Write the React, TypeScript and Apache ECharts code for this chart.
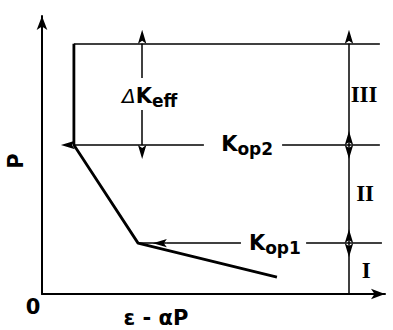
import React, { useEffect, useRef } from "react";
import * as echarts from "echarts";

// Load path: P against ε − αP (arbitrary units, both axes 0–100)
const curveX = [9.3, 9.3, 28.0, 68.5];
const curveY = [90, 53.6, 18.3, 6.1];

// Characteristic load levels
const pMax = 90;
const kOp2 = 53.6;
const kOp1 = 18.3;

// Horizontal reference lines: start, label gap, end
const levelStartX = 9.3;
const topLineEnd = 98.5;
const kOp2Gap = [47.2, 70.0];
const kOp2End = 98.5;
const kOp2ArrowTip = 9.6;
const kOp1Start = 28.0;
const kOp1Gap = [58.0, 77.0];
const kOp1End = 99.1;
const kOp1ArrowTip = 36.4;

// Dimension lines
const stageX = 89.5;
const keffX = 29.2;
const keffGap = [66.2, 77.7];

// Text labels: [x, y, rich text]
const stageLabels = ["III", "II", "I"];
const stageLabelX = [93.9, 94.2, 94.5];
const stageLabelY = [71.6, 36.3, 8.6];
const levelLabelText = ["{d|Δ}{k|K}{s|eff}", "{k|K}{s|op2}", "{k|K}{s|op1}"];
const levelLabelX = [31.4, 59.8, 67.9];
const levelLabelY = [70.9, 53.6, 18.0];

// Narrow arrowhead whose tip sits at the symbol centre (square bounding box)
const ARROW =
  "path://M0,0 L4.2,14 L0,11 L-4.2,14 Z M-14,28 L-14,28.02 L-13.98,28 Z M14,28 L14,28.02 L13.98,28 Z";

const INK = "#000";
const SANS = "DejaVu Sans";

export default function App() {
  const ref = useRef<HTMLDivElement>(null);

  useEffect(() => {
    if (!ref.current) return;
    const chart = echarts.init(ref.current, undefined, { renderer: "svg" });

    const plain: number[][][] = [
      [[levelStartX, pMax], [topLineEnd, pMax]],
      [[kOp2Gap[1], kOp2], [kOp2End, kOp2]],
      [[kOp1Start, kOp1], [kOp1ArrowTip, kOp1]],
      [[kOp1Gap[1], kOp1], [kOp1End, kOp1]],
    ];
    const singleArrow: number[][][] = [
      [[kOp2Gap[0], kOp2], [kOp2ArrowTip, kOp2]],
      [[kOp1Gap[0], kOp1], [kOp1ArrowTip, kOp1]],
      [[keffX, keffGap[1]], [keffX, pMax]],
      [[keffX, keffGap[0]], [keffX, kOp2]],
    ];
    const doubleArrow: number[][][] = [
      [[stageX, pMax], [stageX, kOp2]],
      [[stageX, kOp2], [stageX, kOp1]],
      [[stageX, kOp1], [stageX, 0]],
    ];

    const lineStyle = { color: INK, width: 1.5, opacity: 1 };

    const labelData = [
      ...stageLabels.map((t, i) => ({
        value: [stageLabelX[i], stageLabelY[i]],
        label: {
          formatter: t,
          fontFamily: "Liberation Serif",
          fontWeight: "bold" as const,
          fontSize: 23,
        },
      })),
      ...levelLabelText.map((t, i) => ({
        value: [levelLabelX[i], levelLabelY[i]],
        label: { formatter: t },
      })),
    ];

    chart.setOption({
      animation: false,
      backgroundColor: "#fff",
      grid: { left: 42, top: 16, width: 343, height: 278 },
      xAxis: {
        type: "value",
        min: 0,
        max: 100,
        axisLine: {
          show: true,
          symbol: ["none", "arrow"],
          symbolSize: [8, 14],
          lineStyle: { color: INK, width: 2 },
        },
        axisTick: { show: false },
        axisLabel: { show: false },
        splitLine: { show: false },
      },
      yAxis: {
        type: "value",
        min: 0,
        max: 100,
        axisLine: {
          show: true,
          symbol: ["none", "arrow"],
          symbolSize: [8, 14],
          lineStyle: { color: INK, width: 2 },
        },
        axisTick: { show: false },
        axisLabel: { show: false },
        splitLine: { show: false },
      },
      series: [
        {
          type: "line",
          data: curveX.map((x, i) => [x, curveY[i]]),
          showSymbol: false,
          symbol: "none",
          lineStyle: { color: INK, width: 2.8 },
          silent: true,
        },
        {
          type: "lines",
          coordinateSystem: "cartesian2d",
          symbol: ["none", "none"],
          lineStyle,
          silent: true,
          data: plain.map((c) => ({ coords: c })),
        },
        {
          type: "lines",
          coordinateSystem: "cartesian2d",
          symbol: ["none", ARROW],
          symbolSize: 28,
          lineStyle,
          silent: true,
          data: singleArrow.map((c) => ({ coords: c })),
        },
        {
          type: "lines",
          coordinateSystem: "cartesian2d",
          symbol: [ARROW, ARROW],
          symbolSize: 28,
          lineStyle,
          silent: true,
          data: doubleArrow.map((c) => ({ coords: c })),
        },
        {
          type: "scatter",
          symbolSize: 1,
          clip: false,
          silent: true,
          itemStyle: { color: "rgba(0,0,0,0)", opacity: 1 },
          label: {
            show: true,
            position: "inside",
            color: INK,
            opacity: 1,
            fontFamily: SANS,
            rich: {
              d: { fontSize: 20, fontStyle: "italic", fontFamily: SANS, color: INK, lineHeight: 22, verticalAlign: "top" },
              k: { fontSize: 21, fontWeight: "bold", fontFamily: SANS, color: INK, lineHeight: 22, verticalAlign: "top" },
              s: { fontSize: 17, fontWeight: "bold", fontFamily: SANS, color: INK, lineHeight: 18, padding: [7, 0, 0, 0], verticalAlign: "top" },
            },
          },
          data: labelData,
        },
      ],
      graphic: [
        {
          type: "text",
          x: 16,
          y: 161,
          rotation: Math.PI / 2,
          style: { text: "P", font: `bold 21px "${SANS}"`, fill: INK, align: "center", verticalAlign: "middle" },
        },
        {
          type: "text",
          x: 33,
          y: 307,
          style: { text: "0", font: `bold 21px "${SANS}"`, fill: INK, align: "center", verticalAlign: "middle" },
        },
        {
          type: "text",
          x: 156,
          y: 318,
          style: { text: "ε - αP", font: `bold 21px "${SANS}"`, fill: INK, align: "center", verticalAlign: "middle" },
        },
      ],
    });

    return () => chart.dispose();
  }, []);

  return (
    <div
      ref={ref}
      style={{ position: "absolute", left: 0, top: 0, width: 393, height: 330, background: "#fff" }}
    />
  );
}
